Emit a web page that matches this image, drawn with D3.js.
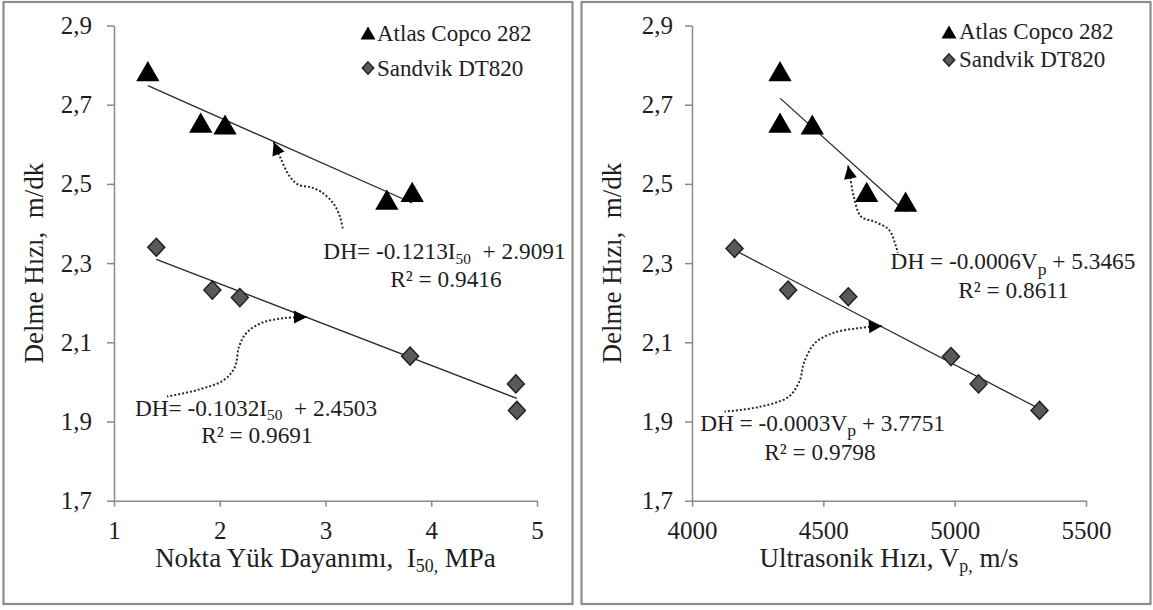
<!DOCTYPE html>
<html>
<head>
<meta charset="utf-8">
<script src="https://cdn.jsdelivr.net/npm/d3@7"></script>
<style>
  html, body { margin: 0; padding: 0; background: #fff; }
  svg text { font-family: "Liberation Serif", "Times New Roman", serif !important; white-space: pre; fill: #1e1e1e; }
</style>
</head>
<body>
<svg id="chart" width="1153" height="610" font-family="Liberation Serif"></svg>
<script>
// Drilling rate (Delme Hızı) of two rigs against point load strength and ultrasonic velocity

const seriesNames = ["Atlas Copco 282", "Sandvik DT820"];

// Axis ticks
const dhTicks = [1.7, 1.9, 2.1, 2.3, 2.5, 2.7, 2.9];
const i50Ticks = [1, 2, 3, 4, 5];
const vpTicks = [4000, 4500, 5000, 5500];

// Point load strength I50 (MPa) vs drilling rate (m/dk)
const atlasI50 = [1.32, 1.82, 2.05, 3.58, 3.82];
const atlasDhI50 = [2.785, 2.655, 2.65, 2.46, 2.48];
const sandvikI50 = [1.40, 1.93, 2.19, 3.80, 4.80, 4.81];
const sandvikDhI50 = [2.34, 2.232, 2.213, 2.065, 1.995, 1.928];

// Ultrasonic velocity Vp (m/s) vs drilling rate (m/dk)
const atlasVp = [4335, 4335, 4458, 4665, 4813];
const atlasDhVp = [2.785, 2.655, 2.65, 2.48, 2.455];
const sandvikVp = [4162, 4366, 4595, 4986, 5091, 5323];
const sandvikDhVp = [2.337, 2.232, 2.215, 2.064, 1.995, 1.928];

// Regression equation texts
const eqAtlasI50 = [{t: "DH= -0.1213I"}, {t: "50", sub: true}, {t: "  + 2.9091"}];
const r2AtlasI50 = "R² = 0.9416";
const eqSandvikI50 = [{t: "DH= -0.1032I"}, {t: "50", sub: true}, {t: "  + 2.4503"}];
const r2SandvikI50 = "R² = 0.9691";
const eqAtlasVp = [{t: "DH = -0.0006V"}, {t: "p", sub: true, big: true}, {t: " + 5.3465"}];
const r2AtlasVp = "R² = 0.8611";
const eqSandvikVp = [{t: "DH = -0.0003V"}, {t: "p", sub: true, big: true}, {t: " + 3.7751"}];
const r2SandvikVp = "R² = 0.9798";

// Axis titles
const yTitle = "Delme Hızı,  m/dk";
const xTitleI50 = [{t: "Nokta Yük Dayanımı,  I"}, {t: "50,", sub: true}, {t: " MPa"}];
const xTitleVp = [{t: "Ultrasonik Hızı, V"}, {t: "p,", sub: true}, {t: " m/s"}];

// Dotted callout curves (data units), arrow tip first, then the label anchors
const calloutAtlasI50 = [[2.51, 2.606], [2.57, 2.568], [2.664, 2.518], [2.749, 2.497], [2.853, 2.492],
                         [2.957, 2.48], [3.071, 2.452], [3.137, 2.417], [3.165, 2.384]];
const calloutSandvikI50 = [[2.825, 2.164], [2.608, 2.161], [2.396, 2.149], [2.254, 2.124], [2.182, 2.089],
                           [2.144, 2.038], [2.04, 2.005], [1.794, 1.98], [1.501, 1.963]];
const calloutAtlasVp = [[4594, 2.546], [4602, 2.518], [4616, 2.468], [4644, 2.417], [4693, 2.405],
                        [4750, 2.384], [4777, 2.341], [4784, 2.326]];
const calloutSandvikVp = [[4723, 2.141], [4636, 2.136], [4539, 2.124], [4468, 2.098], [4426, 2.048],
                          [4411, 2.005], [4369, 1.963], [4257, 1.937], [4124, 1.925]];

const labelAtlasI50 = [4.125, 2.310, 4.139, 2.240];
const labelSandvikI50 = [2.343, 1.915, 2.352, 1.846];
const labelAtlasVp = [5222, 2.284, 5224, 2.211];
const labelSandvikVp = [4497, 1.877, 4487, 1.803];

// ---------------------------------------------------------------------------

const svg = d3.select("#chart");
const commaFmt = d3.formatLocale({decimal: ",", thousands: " ", grouping: [3], currency: ["", ""]}).format(".1f");

// Triangle and diamond symbols centred on their bounding boxes
const triangleSym = {
  draw(ctx, size) {
    const w = Math.sqrt(size) * 1.15, h = Math.sqrt(size);
    ctx.moveTo(0, -h / 2); ctx.lineTo(w / 2, h / 2); ctx.lineTo(-w / 2, h / 2); ctx.closePath();
  }
};
const diamondSym = {
  draw(ctx, size) {
    const w = Math.sqrt(size) * 0.94, h = Math.sqrt(size);
    ctx.moveTo(0, -h / 2); ctx.lineTo(w / 2, 0); ctx.lineTo(0, h / 2); ctx.lineTo(-w / 2, 0); ctx.closePath();
  }
};
const seriesStyle = [
  {sym: triangleSym, size: 410, legendSize: 170, fill: "#000", stroke: "#000", sw: 0},
  {sym: diamondSym, size: 330, legendSize: 150, fill: "#595959", stroke: "#1e1e1e", sw: 1.4}
];

function fit(xs, ys) {
  const mx = d3.mean(xs), my = d3.mean(ys);
  const b = d3.sum(xs, (x, i) => (x - mx) * (ys[i] - my)) / d3.sum(xs, x => (x - mx) ** 2);
  return {a: my - b * mx, b};
}

function richText(g, parts, x, y, size, anchor) {
  const t = g.append("text").attr("x", x).attr("y", y).attr("font-size", size).attr("text-anchor", anchor);
  let shifted = 0;
  parts.forEach(p => {
    const s = t.append("tspan").text(p.t);
    if (p.sub) {
      const sh = p.big ? size * 0.23 : size * 0.2;
      s.attr("font-size", p.big ? size * 0.76 : size * 0.66).attr("dy", sh);
      shifted = sh;
    } else if (shifted) {
      s.attr("dy", -shifted);
      shifted = 0;
    }
  });
  return t;
}

// arrowhead for the callouts
svg.append("defs").append("marker")
  .attr("id", "tip").attr("markerUnits", "userSpaceOnUse")
  .attr("markerWidth", 16).attr("markerHeight", 16)
  .attr("viewBox", "-15 -8 16 16").attr("refX", 0).attr("refY", 0)
  .attr("orient", "auto-start-reverse")
  .append("path").attr("d", "M0,0 L-13,-6.5 L-13,6.5 Z").attr("fill", "#000");

const yScale = d3.scaleLinear().domain([1.7, 2.9]).range([500.7, 25.5]);

const panels = [
  {
    frame: [3.5, 2, 569, 602],
    x: d3.scaleLinear().domain([1, 5]).range([114, 537]),
    xTicks: i50Ticks, xFmt: d3.format("d"), yPad: 15,
    yTitleX: 43, xTitle: xTitleI50,
    legend: {x: 368, ys: [33, 68], tx: 377, dy: 8},
    series: [
      {xs: atlasI50, ys: atlasDhI50, eq: eqAtlasI50, r2: r2AtlasI50, lab: labelAtlasI50, call: calloutAtlasI50},
      {xs: sandvikI50, ys: sandvikDhI50, eq: eqSandvikI50, r2: r2SandvikI50, lab: labelSandvikI50, call: calloutSandvikI50}
    ]
  },
  {
    frame: [581.5, 2, 569, 602],
    x: d3.scaleLinear().domain([4000, 5500]).range([692, 1086]),
    xTicks: vpTicks, xFmt: d3.format("d"), yPad: 12,
    yTitleX: 621, xTitle: xTitleVp,
    legend: {x: 949, ys: [32, 60], tx: 959, dy: 7},
    series: [
      {xs: atlasVp, ys: atlasDhVp, eq: eqAtlasVp, r2: r2AtlasVp, lab: labelAtlasVp, call: calloutAtlasVp},
      {xs: sandvikVp, ys: sandvikDhVp, eq: eqSandvikVp, r2: r2SandvikVp, lab: labelSandvikVp, call: calloutSandvikVp}
    ]
  }
];

panels.forEach(p => {
  const g = svg.append("g");
  const x = p.x, y = yScale;

  g.append("rect")
    .attr("x", p.frame[0]).attr("y", p.frame[1]).attr("width", p.frame[2]).attr("height", p.frame[3])
    .attr("fill", "#fff").attr("stroke", "#8c8c8c").attr("stroke-width", 2.2);

  // axes
  const ya = g.append("g").attr("transform", `translate(${x.range()[0]},0)`)
    .call(d3.axisLeft(y).tickValues(dhTicks).tickFormat(commaFmt).tickSize(7).tickSizeOuter(0).tickPadding(p.yPad));
  const xa = g.append("g").attr("transform", `translate(0,${y.range()[0]})`)
    .call(d3.axisBottom(x).tickValues(p.xTicks).tickFormat(p.xFmt).tickSize(6).tickSizeOuter(0).tickPadding(15));
  [ya, xa].forEach(a => {
    a.attr("font-family", "Liberation Serif");
    a.select(".domain").attr("stroke", "#8a8a8a").attr("stroke-width", 1.5);
    a.selectAll(".tick line").attr("stroke", "#8a8a8a").attr("stroke-width", 1.5);
    a.selectAll(".tick text").attr("font-size", 25).attr("fill", "#222");
  });

  // axis titles
  g.append("text")
    .attr("transform", `translate(${p.yTitleX},${(y.range()[0] + y.range()[1]) / 2}) rotate(-90)`)
    .attr("text-anchor", "middle").attr("font-size", 27).text(yTitle);
  richText(g, p.xTitle, (x.range()[0] + x.range()[1]) / 2, 567, 27, "middle");

  // trend lines over each series' range
  p.series.forEach(s => {
    const f = fit(s.xs, s.ys);
    const ext = d3.extent(s.xs);
    g.append("line")
      .attr("x1", x(ext[0])).attr("y1", y(f.a + f.b * ext[0]))
      .attr("x2", x(ext[1])).attr("y2", y(f.a + f.b * ext[1]))
      .attr("stroke", "#2a2a2a").attr("stroke-width", 1.3);
  });

  // markers
  p.series.forEach((s, si) => {
    const st = seriesStyle[si];
    g.append("g").selectAll("path").data(s.xs.map((v, i) => [v, s.ys[i]])).join("path")
      .attr("transform", d => `translate(${x(d[0])},${y(d[1])})`)
      .attr("d", d3.symbol(st.sym, st.size))
      .attr("fill", st.fill).attr("stroke", st.sw ? st.stroke : "none").attr("stroke-width", st.sw);
  });

  // callouts and equation labels
  const curve = d3.line().x(d => x(d[0])).y(d => y(d[1])).curve(d3.curveCatmullRom.alpha(0.5));
  p.series.forEach(s => {
    g.append("path").attr("d", curve(s.call))
      .attr("fill", "none").attr("stroke", "#2a2a2a").attr("stroke-width", 2)
      .attr("stroke-dasharray", "2,2").attr("marker-start", "url(#tip)");
    richText(g, s.eq, x(s.lab[0]), y(s.lab[1]), 23.3, "middle");
    g.append("text").attr("x", x(s.lab[2])).attr("y", y(s.lab[3]))
      .attr("text-anchor", "middle").attr("font-size", 23.3).text(s.r2);
  });

  // legend
  seriesNames.forEach((name, si) => {
    const st = seriesStyle[si];
    g.append("path")
      .attr("transform", `translate(${p.legend.x},${p.legend.ys[si]})`)
      .attr("d", d3.symbol(st.sym, st.legendSize))
      .attr("fill", st.fill).attr("stroke", st.sw ? st.stroke : "none").attr("stroke-width", st.sw);
    g.append("text").attr("x", p.legend.tx).attr("y", p.legend.ys[si] + p.legend.dy)
      .attr("font-size", 23).text(name);
  });
});
</script>
</body>
</html>
